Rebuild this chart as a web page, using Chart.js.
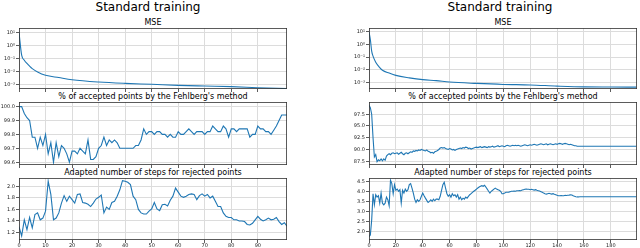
<!DOCTYPE html>
<html>
<head>
<meta charset="utf-8">
<script src="https://cdn.jsdelivr.net/npm/chart.js@4"></script>
<style>
body { margin: 0; width: 640px; height: 248px; background: #fff; position: relative; overflow: hidden; font-family: "DejaVu Sans", sans-serif; color: #000; }
.box { position: absolute; }
.sup { position: absolute; font-size: 12px; line-height: 14px; text-align: center; width: 300px; white-space: nowrap; }
.ttl { position: absolute; font-size: 8px; line-height: 10px; text-align: center; width: 268px; white-space: nowrap; color: #000; }
</style>
</head>
<body>
<div class="sup" style="left:-2px;top:0px">Standard training</div>
<div class="sup" style="left:350px;top:0px">Standard training</div>

<div class="ttl" style="left:19px;top:18px">MSE</div>
<div class="ttl" style="left:19px;top:91.5px">% of accepted points by the Fehlberg's method</div>
<div class="ttl" style="left:19px;top:167.5px">Adapted number of steps for rejected points</div>
<div class="ttl" style="left:369px;top:18px">MSE</div>
<div class="ttl" style="left:369px;top:91.5px">% of accepted points by the Fehlberg's method</div>
<div class="ttl" style="left:369px;top:167.5px">Adapted number of steps for rejected points</div>

<div class="box" style="left:0;top:28px"><canvas id="l1" width="287" height="65"></canvas></div>
<div class="box" style="left:0;top:102px"><canvas id="l2" width="287" height="67"></canvas></div>
<div class="box" style="left:0;top:178px"><canvas id="l3" width="287" height="70"></canvas></div>
<div class="box" style="left:350px;top:28px"><canvas id="r1" width="287" height="65"></canvas></div>
<div class="box" style="left:350px;top:102px"><canvas id="r2" width="287" height="67"></canvas></div>
<div class="box" style="left:350px;top:178px"><canvas id="r3" width="287" height="70"></canvas></div>

<script>
// ---- data ----
const mseLeftX = [0, 1, 2, 3, 4, 5, 7, 10, 15, 20, 30, 40, 50, 60, 70, 80, 90, 101];
const mseLeft = [10, 0.18, 0.074, 0.042, 0.026, 0.017, 0.0093, 0.0052, 0.0035, 0.0024, 0.0016, 0.00126, 0.00107, 0.00089, 0.00079, 0.00071, 0.00059, 0.0005];

const acceptedLeft = [
    100.0, 100.0, 99.95, 99.92, 99.90, 99.78, 99.78, 99.70, 99.78, 99.72,
    99.80, 99.66, 99.74, 99.60, 99.74, 99.64, 99.72, 99.70, 99.66, 99.60,
    99.68, 99.68, 99.66, 99.70, 99.68, 99.66, 99.76, 99.62, 99.62, 99.64,
    99.70, 99.72, 99.78, 99.72, 99.76, 99.74, 99.76, 99.74, 99.70, 99.70,
    99.70, 99.70, 99.70, 99.70, 99.72, 99.72, 99.76, 99.84, 99.80, 99.82,
    99.82, 99.80, 99.82, 99.82, 99.80, 99.80, 99.78, 99.80, 99.78, 99.78,
    99.82, 99.80, 99.80, 99.82, 99.84, 99.82, 99.80, 99.82, 99.82, 99.82,
    99.80, 99.82, 99.82, 99.86, 99.84, 99.82, 99.82, 99.86, 99.84, 99.78,
    99.84, 99.84, 99.82, 99.84, 99.84, 99.84, 99.84, 99.78, 99.80, 99.80,
    99.86, 99.84, 99.84, 99.82, 99.82, 99.80, 99.83, 99.86, 99.90, 99.94,
    99.94, 99.94
];

const stepsLeft = [
    1.30, 1.14, 1.42, 1.25, 1.46, 1.28, 1.51, 1.54, 1.42, 1.45,
    1.57, 2.09, 1.86, 1.42, 1.45, 1.54, 1.71, 1.84, 1.74, 1.83,
    1.77, 1.71, 1.86, 1.87, 1.72, 1.71, 1.69, 1.65, 1.71, 1.78,
    1.81, 1.85, 1.54, 1.64, 1.60, 1.72, 1.74, 1.83, 1.94, 2.10,
    2.09, 2.07, 2.03, 1.83, 1.77, 1.60, 1.54, 1.52, 1.52, 1.57,
    1.61, 1.72, 1.61, 1.58, 1.68, 1.69, 1.66, 1.76, 1.83, 1.97,
    1.90, 1.83, 1.81, 1.83, 1.86, 1.87, 1.86, 1.77, 1.84, 1.87,
    1.83, 1.86, 1.80, 1.83, 1.74, 1.65, 1.65, 1.54, 1.48, 1.46,
    1.46, 1.42, 1.42, 1.40, 1.40, 1.39, 1.34, 1.33, 1.36, 1.42,
    1.48, 1.43, 1.40, 1.42, 1.45, 1.42, 1.43, 1.46, 1.39, 1.34,
    1.37, 1.31
];

const mseRightX = [0, 1, 2, 3, 5, 8, 10, 15, 20, 30, 40, 50, 60, 80, 100, 120, 140, 160, 180, 199];
const mseRight = [10, 2.5, 0.3, 0.12, 0.04, 0.015, 0.0093, 0.0055, 0.0036, 0.0023, 0.00166, 0.00138, 0.00107, 0.00083, 0.00069, 0.00063, 0.00051, 0.00044, 0.00043, 0.00042];

const acceptedRight = [
    99.4, 98.9, 97.5, 92.5, 88.4, 88.9, 87.4, 87.8, 87.6, 88.0,
    87.6, 88.0, 87.7, 88.6, 88.9, 89.1, 88.9, 89.2, 89.3, 89.1,
    89.2, 89.3, 89.0, 89.2, 89.4, 89.1, 88.9, 89.2, 89.3, 89.1,
    89.3, 89.5, 89.4, 89.7, 89.6, 89.8, 89.7, 89.9, 89.8, 90.0,
    89.9, 89.8, 89.7, 89.9, 89.6, 89.5, 89.3, 89.4, 89.2, 89.5,
    89.6, 89.8, 90.0, 90.3, 90.4, 90.3, 90.4, 90.2, 90.1, 90.0,
    90.2, 90.1, 89.9, 90.0, 89.8, 90.0, 90.1, 90.2, 90.3, 90.2,
    90.4, 90.3, 90.5, 90.4, 90.2, 90.3, 90.1, 90.2, 90.3, 90.4,
    90.5, 90.4, 90.5, 90.6, 90.4, 90.5, 90.6, 90.5, 90.4, 90.6,
    90.5, 90.6, 90.7, 90.5, 90.6, 90.7, 90.8, 90.6, 90.7, 90.8,
    90.7, 90.6, 90.8, 90.9, 90.8, 90.7, 90.8, 90.9, 90.8, 90.9,
    90.8, 90.9, 90.8, 90.7, 90.8, 90.9, 91.0, 90.9, 90.8, 90.9,
    91.0, 90.9, 91.0, 91.1, 91.0, 90.9, 91.0, 91.1, 91.2, 91.1,
    91.0, 91.1, 91.2, 91.0, 91.1, 91.2, 91.1, 91.0, 91.1, 91.2,
    91.1, 91.2, 91.3, 91.2, 91.1, 91.2, 91.3, 91.2, 91.1, 91.0,
    91.1, 91.0, 90.9, 90.8, 90.8, 90.7, 90.7, 90.7, 90.7, 90.7,
    90.7, 90.7, 90.7, 90.7, 90.7, 90.7, 90.7, 90.7, 90.7, 90.7,
    90.7, 90.7, 90.7, 90.7, 90.7, 90.7, 90.7, 90.7, 90.7, 90.7,
    90.7, 90.7, 90.7, 90.7, 90.7, 90.7, 90.7, 90.7, 90.7, 90.7,
    90.7, 90.7, 90.7, 90.7, 90.7, 90.7, 90.7, 90.7, 90.7, 90.7
];

const stepsRight = [
    1.77, 1.85, 2.60, 3.90, 3.35, 3.85, 3.73, 3.80, 3.43, 3.93,
    3.43, 3.35, 3.43, 3.73, 3.60, 3.30, 4.57, 4.40, 3.90, 4.35,
    4.07, 4.13, 4.02, 4.10, 3.43, 4.07, 3.93, 4.13, 4.02, 4.10,
    4.35, 4.40, 4.18, 3.93, 3.63, 3.47, 3.60, 3.52, 3.60, 3.77,
    3.93, 3.80, 3.68, 3.57, 3.47, 3.52, 3.60, 3.52, 3.63, 3.55,
    3.63, 3.63, 3.60, 3.77, 4.07, 4.35, 4.47, 4.18, 3.90, 3.77,
    3.85, 3.73, 3.90, 3.80, 3.85, 3.73, 3.85, 3.63, 3.73, 3.60,
    3.68, 3.63, 3.73, 3.68, 3.77, 3.85, 3.90, 3.97, 4.02, 4.07,
    4.13, 4.18, 4.23, 4.27, 4.30, 4.27, 4.32, 4.23, 4.13, 4.02,
    3.93, 4.02, 4.07, 4.13, 4.18, 4.13, 4.10, 4.07, 4.02, 3.90,
    3.90, 3.93, 3.97, 3.97, 3.98, 4.00, 4.02, 4.02, 4.03, 4.02,
    4.05, 4.05, 4.06, 4.05, 4.08, 4.10, 4.12, 4.13, 4.12, 4.12,
    4.10, 4.12, 4.10, 4.08, 4.10, 4.07, 4.05, 4.03, 4.00, 3.97,
    3.93, 3.90, 3.88, 3.90, 3.92, 3.90, 3.88, 3.90, 3.87, 3.85,
    3.82, 3.80, 3.80, 3.81, 3.80, 3.80, 3.82, 3.81, 3.82, 3.83,
    3.85, 3.84, 3.80, 3.77, 3.75, 3.74, 3.74, 3.75, 3.75, 3.75,
    3.75, 3.75, 3.75, 3.75, 3.75, 3.75, 3.75, 3.75, 3.75, 3.75,
    3.75, 3.75, 3.75, 3.75, 3.75, 3.75, 3.75, 3.75, 3.75, 3.75,
    3.75, 3.75, 3.75, 3.75, 3.75, 3.75, 3.75, 3.75, 3.75, 3.75,
    3.75, 3.75, 3.75, 3.75, 3.75, 3.75, 3.75, 3.75, 3.75, 3.75
];

// ---- tick labels ----
const xTicksLeft = [0, 10, 20, 30, 40, 50, 60, 70, 80, 90];
const xTicksRight = [0, 20, 40, 60, 80, 100, 120, 140, 160, 180];
const mseTicks = [1e-3, 1e-2, 1e-1, 1, 10];
const mseTickLabels = ['10⁻³', '10⁻²', '10⁻¹', '10⁰', '10¹'];
const accLeftTicks = [99.6, 99.7, 99.8, 99.9, 100.0];
const accRightTicks = [87.5, 90.0, 92.5, 95.0, 97.5];
const stepsLeftTicks = [1.2, 1.4, 1.6, 1.8, 2.0];
const stepsRightTicks = [2.0, 2.5, 3.0, 3.5, 4.0, 4.5];

const BLUE = '#1f77b4';
const GRID = '#dcdcdc';
const AXIS = '#333333';
const FONT = { family: 'DejaVu Sans', size: 5 };

const frame = {
    id: 'frame',
    afterDraw(chart) {
        const a = chart.chartArea, ctx = chart.ctx;
        ctx.save();
        ctx.strokeStyle = AXIS;
        ctx.lineWidth = 0.8;
        ctx.strokeRect(a.left + 0.4, a.top + 0.4, a.right - a.left - 0.8, a.bottom - a.top - 0.8);
        ctx.restore();
    }
};

function plot(id, o) {
    const xs = o.xs || o.ys.map((v, i) => i);
    const pts = o.ys.map((v, i) => ({ x: xs[i], y: v }));
    const labels = o.yLabels || o.yTicks.map(v => v.toFixed(1));
    new Chart(document.getElementById(id), {
        type: 'line',
        data: {
            datasets: [{
                data: pts,
                borderColor: BLUE,
                borderWidth: 1.1,
                pointRadius: 0,
                fill: false,
                cubicInterpolationMode: o.smooth ? 'monotone' : 'default'
            }]
        },
        options: {
            responsive: false,
            animation: false,
            devicePixelRatio: 1,
            layout: { padding: 0 },
            plugins: { legend: { display: false }, tooltip: { enabled: false } },
            scales: {
                x: {
                    type: 'linear',
                    min: o.xMin,
                    max: o.xMax,
                    afterBuildTicks: s => { s.ticks = o.xTicks.map(v => ({ value: v })); },
                    afterFit: s => { s.height = o.xh; s.paddingLeft = 0; s.paddingRight = 0; },
                    grid: { color: GRID, tickColor: AXIS, tickLength: 3, tickWidth: 0.8 },
                    border: { display: false },
                    ticks: { display: o.xLabels, font: FONT, color: '#222', padding: 0, maxRotation: 0, autoSkip: false }
                },
                y: {
                    type: o.log ? 'logarithmic' : 'linear',
                    min: o.yMin,
                    max: o.yMax,
                    afterBuildTicks: s => { s.ticks = o.yTicks.map(v => ({ value: v })); },
                    afterFit: s => { s.width = 19; s.paddingTop = 0; s.paddingBottom = 0; },
                    grid: { color: GRID, tickColor: AXIS, tickLength: 3, tickWidth: 0.8 },
                    border: { display: false },
                    ticks: { font: FONT, color: '#222', padding: 1, autoSkip: false, callback: (v, i) => labels[i] }
                }
            }
        },
        plugins: [frame]
    });
}

plot('l1', { xs: mseLeftX, ys: mseLeft, smooth: true, log: true, yMin: Math.pow(10, -3.33), yMax: Math.pow(10, 1.33),
    yTicks: mseTicks, yLabels: mseTickLabels, xMin: 0, xMax: 101, xTicks: xTicksLeft, xLabels: false, xh: 4 });
plot('l2', { ys: acceptedLeft, yMin: 99.58, yMax: 100.033, yTicks: accLeftTicks,
    xMin: 0, xMax: 101, xTicks: xTicksLeft, xLabels: false, xh: 4 });
plot('l3', { ys: stepsLeft, yMin: 1.07, yMax: 2.145, yTicks: stepsLeftTicks,
    xMin: 0, xMax: 101, xTicks: xTicksLeft, xLabels: true, xh: 8 });
plot('r1', { xs: mseRightX, ys: mseRight, smooth: true, log: true, yMin: Math.pow(10, -3.47), yMax: Math.pow(10, 1.31),
    yTicks: mseTicks, yLabels: mseTickLabels, xMin: 0, xMax: 199.5, xTicks: xTicksRight, xLabels: false, xh: 4 });
plot('r2', { ys: acceptedRight, yMin: 86.7, yMax: 100.1, yTicks: accRightTicks,
    xMin: 0, xMax: 199.5, xTicks: xTicksRight, xLabels: false, xh: 4 });
plot('r3', { ys: stepsRight, yMin: 1.6, yMax: 4.68, yTicks: stepsRightTicks,
    xMin: 0, xMax: 199.5, xTicks: xTicksRight, xLabels: true, xh: 8 });
</script>
</body>
</html>
